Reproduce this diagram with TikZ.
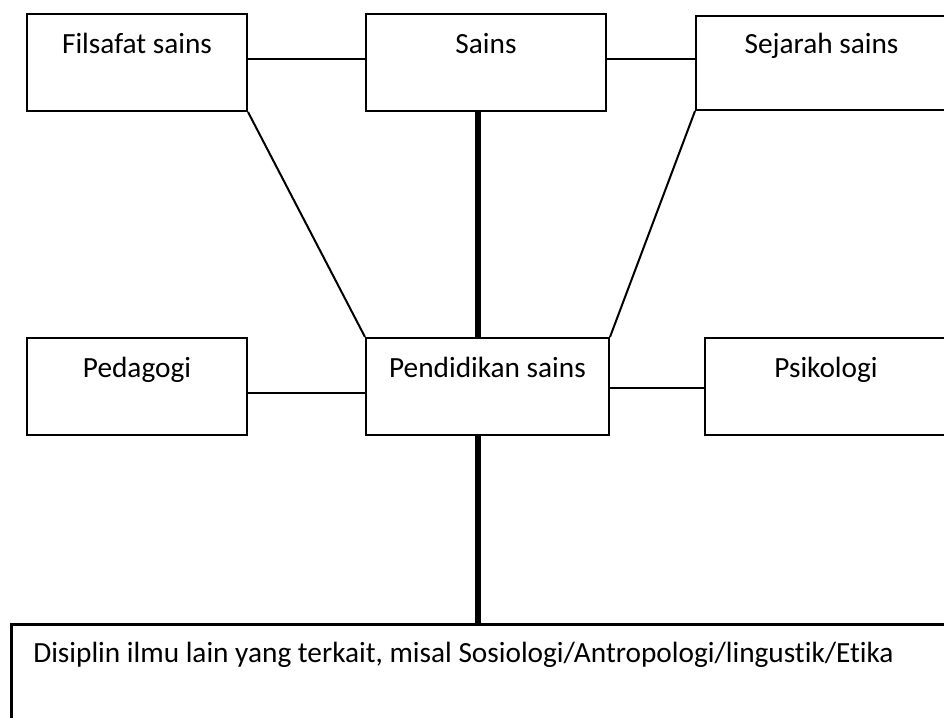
\documentclass[tikz,border=0pt]{standalone}
\usepackage{fontspec}
\setmainfont{Carlito}[Ligatures=NoCommon]
\begin{document}
\begin{tikzpicture}[x=1pt,y=-1pt,
  every node/.style={font=\fontsize{29.3}{35}\selectfont},
  box/.style={draw=black, line width=2pt, rectangle, anchor=north west,
    inner xsep=0pt, inner ysep=0pt, text height=39pt, text depth=58pt, align=center},
  thin link/.style={draw=black, line width=2pt},
  thick link/.style={draw=black, line width=6pt}]
\useasboundingbox (0,0) rectangle (944,717);
\node[box, minimum width=220pt] (fil) at (26,13) {Filsafat sains};
\node[box, minimum width=240pt] (sains) at (365,13) {Sains};
\node[box, minimum width=251pt, text height=38pt, text depth=56pt] (sej) at (695,15) {Sejarah sains};
\node[box, minimum width=220pt] (ped) at (26,337) {Pedagogi};
\node[box, minimum width=243pt] (pend) at (365,337) {Pendidikan sains};
\node[box, minimum width=242pt] (psi) at (704,337) {Psikologi};
\node[box, line width=2.5pt, text width=900pt, inner xsep=22pt, align=flush left,
      text height=38pt, text depth=60pt] (bot) at (10,623)
  {Disiplin ilmu lain yang terkait, misal Sosiologi/Antropologi/lingustik/Etika};
% connectors
\draw[thin link] ([yshift=3.5pt]fil.east) -- ([yshift=3.5pt]sains.west);
\draw[thin link] ([yshift=3.5pt]sains.east) -- ([yshift=3.5pt]sains.east -| sej.west);
\draw[thin link] (fil.south east) -- (pend.north west);
\draw[thin link] (sej.south west) -- (pend.north east);
\draw[thin link] ([yshift=-6.5pt]ped.east) -- ([yshift=-6.5pt]ped.east -| pend.west);
\draw[thin link] ([yshift=-1.5pt]pend.east) -- ([yshift=-1.5pt]pend.east -| psi.west);
\draw[thick link] ([xshift=-8pt]sains.south) -- ([xshift=-8pt]sains.south |- pend.north);
\draw[thick link] ([xshift=-9.5pt]pend.south) -- ([xshift=-9.5pt]pend.south |- bot.north);
\end{tikzpicture}
\end{document}
